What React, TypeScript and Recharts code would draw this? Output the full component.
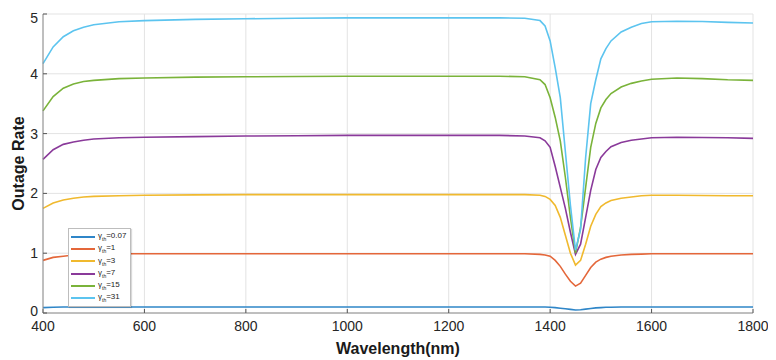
import React from "react";
import { LineChart, Line, XAxis, YAxis, CartesianGrid } from "recharts";

const wavelengths = [400, 420, 440, 460, 480, 500, 550, 600, 700, 800, 900, 1000, 1100, 1200, 1300, 1350, 1380, 1390, 1400, 1410, 1420, 1430, 1440, 1450, 1460, 1470, 1480, 1490, 1500, 1510, 1520, 1540, 1560, 1580, 1600, 1650, 1700, 1750, 1800];

const g007 = [0.09, 0.095, 0.1, 0.1, 0.1, 0.1, 0.1, 0.1, 0.1, 0.1, 0.1, 0.1, 0.1, 0.1, 0.1, 0.1, 0.1, 0.1, 0.095, 0.09, 0.08, 0.07, 0.06, 0.05, 0.055, 0.065, 0.075, 0.085, 0.09, 0.095, 0.095, 0.1, 0.1, 0.1, 0.1, 0.1, 0.1, 0.1, 0.1];
const g1 = [0.88, 0.93, 0.95, 0.97, 0.98, 0.985, 0.99, 0.99, 0.99, 0.99, 0.99, 0.99, 0.99, 0.99, 0.99, 0.99, 0.98, 0.97, 0.95, 0.88, 0.78, 0.65, 0.53, 0.45, 0.5, 0.63, 0.76, 0.85, 0.9, 0.93, 0.95, 0.97, 0.98, 0.985, 0.99, 0.99, 0.99, 0.99, 0.99];
const g3 = [1.75, 1.84, 1.89, 1.92, 1.94, 1.95, 1.96, 1.97, 1.975, 1.98, 1.98, 1.98, 1.98, 1.98, 1.98, 1.98, 1.97, 1.95, 1.9, 1.8, 1.6, 1.3, 1.0, 0.8, 0.88, 1.15, 1.45, 1.65, 1.78, 1.84, 1.88, 1.92, 1.94, 1.96, 1.97, 1.97, 1.965, 1.96, 1.96];
const g7 = [2.57, 2.73, 2.82, 2.86, 2.89, 2.91, 2.93, 2.94, 2.95, 2.96, 2.965, 2.97, 2.97, 2.97, 2.97, 2.96, 2.93, 2.88, 2.77, 2.45, 2.1, 1.75, 1.35, 0.98, 1.15, 1.6, 2.05, 2.4, 2.6, 2.7, 2.78, 2.85, 2.89, 2.91, 2.93, 2.94, 2.935, 2.93, 2.92];
const g15 = [3.38, 3.62, 3.76, 3.83, 3.87, 3.89, 3.92, 3.93, 3.945, 3.95, 3.955, 3.96, 3.96, 3.96, 3.96, 3.95, 3.9, 3.82, 3.6, 3.27, 2.88, 2.27, 1.6, 1.0, 1.43, 2.1, 2.77, 3.17, 3.43, 3.57, 3.67, 3.78, 3.84, 3.88, 3.91, 3.93, 3.92, 3.9, 3.89];
const g31 = [4.17, 4.45, 4.62, 4.72, 4.78, 4.82, 4.87, 4.89, 4.91, 4.92, 4.93, 4.935, 4.935, 4.935, 4.935, 4.93, 4.89, 4.8, 4.55, 4.1, 3.6, 2.7, 1.8, 1.05, 1.4, 2.6, 3.5, 3.9, 4.25, 4.42, 4.55, 4.7, 4.78, 4.84, 4.87, 4.88, 4.875, 4.86, 4.85];

const seriesNames = ["0.07", "1", "3", "7", "15", "31"];
const seriesKeys = ["g007", "g1", "g3", "g7", "g15", "g31"];
const seriesColors = ["#2f86c8", "#e4673a", "#f0b92e", "#8a3a9a", "#7ab33a", "#5cc4ef"];
const seriesValues = [g007, g1, g3, g7, g15, g31];

const xTicks = [400, 600, 800, 1000, 1200, 1400, 1600, 1800];
const yTicks = [0, 1, 2, 3, 4, 5];

const data = wavelengths.map((w, i) => {
  const row: Record<string, number> = { w };
  seriesKeys.forEach((k, j) => {
    row[k] = seriesValues[j][i];
  });
  return row;
});

const FONT = "'Liberation Sans', Arial, sans-serif";

const YTick = (props: any) => {
  const { x, y, payload } = props;
  const shift = payload.value === 0 ? -2 : payload.value === 5 ? 1 : 0;
  return (
    <text x={x} y={y + shift} dy="0.355em" textAnchor="end" fill="#262626" fontSize={14} fontFamily={FONT}>
      {payload.value}
    </text>
  );
};

const LegendBox = () => (
  <div
    style={{
      position: "absolute",
      left: 60,
      top: 220,
      background: "#fff",
      border: "1px solid #bdbdbd",
      padding: "2px 4px 2px 2px",
      fontFamily: FONT,
      fontSize: 8,
      lineHeight: "8px",
      color: "#222",
      boxShadow: "1px 1px 1px rgba(0,0,0,0.15)",
    }}
  >
    {seriesNames.map((n, i) => (
      <div key={n} style={{ display: "flex", alignItems: "center", height: 12.2 }}>
        <div style={{ width: 24, height: 0, borderTop: `2px solid ${seriesColors[i]}`, marginRight: 3 }} />
        <span>
          γ<sub style={{ fontSize: 5, lineHeight: "5px" }}>th</sub>={n}
        </span>
      </div>
    ))}
  </div>
);

export default function App() {
  return (
    <div style={{ position: "relative", width: 760, height: 352 }}>
      <LineChart
        width={760}
        height={352}
        data={data}
        margin={{ top: 6, right: 15, bottom: 0, left: 0 }}
        style={{ fontFamily: FONT }}
      >
        <CartesianGrid stroke="#e3e3e3" strokeWidth={1} />
        <XAxis
          dataKey="w"
          type="number"
          domain={[400, 1800]}
          ticks={xTicks}
          tick={{ fill: "#262626", fontSize: 14, fontFamily: FONT }}
          tickLine={{ stroke: "#555" }}
          tickSize={-4}
          tickMargin={12}
          axisLine={{ stroke: "#8c8c8c" }}
          height={47}
          label={{ value: "Wavelength(nm)", position: "insideBottom", offset: 6, fill: "#1a1a1a", fontSize: 16, fontWeight: "bold", fontFamily: FONT }}
        />
        <XAxis xAxisId="top" orientation="top" dataKey="w" type="number" domain={[400, 1800]} ticks={xTicks} tick={false} tickSize={-4} tickLine={{ stroke: "#555" }} axisLine={{ stroke: "#8c8c8c" }} height={0} />
        <YAxis
          type="number"
          domain={[0, 5]}
          ticks={yTicks}
          tick={<YTick />}
          tickLine={{ stroke: "#555" }}
          tickSize={-4}
          tickMargin={9}
          axisLine={{ stroke: "#8c8c8c" }}
          width={35}
          label={{ value: "Outage Rate", angle: -90, position: "insideLeft", offset: 10, style: { textAnchor: "middle" }, fill: "#1a1a1a", fontSize: 16, fontWeight: "bold", fontFamily: FONT }}
        />
        <YAxis yAxisId="right" orientation="right" type="number" domain={[0, 5]} ticks={yTicks} tick={false} tickSize={-4} tickLine={{ stroke: "#555" }} axisLine={{ stroke: "#8c8c8c" }} width={0} />
        {seriesKeys.map((k, i) => (
          <Line
            key={k}
            dataKey={k}
            type="linear"
            stroke={seriesColors[i]}
            strokeWidth={1.6}
            dot={false}
            isAnimationActive={false}
          />
        ))}
      </LineChart>
      <LegendBox />
    </div>
  );
}
